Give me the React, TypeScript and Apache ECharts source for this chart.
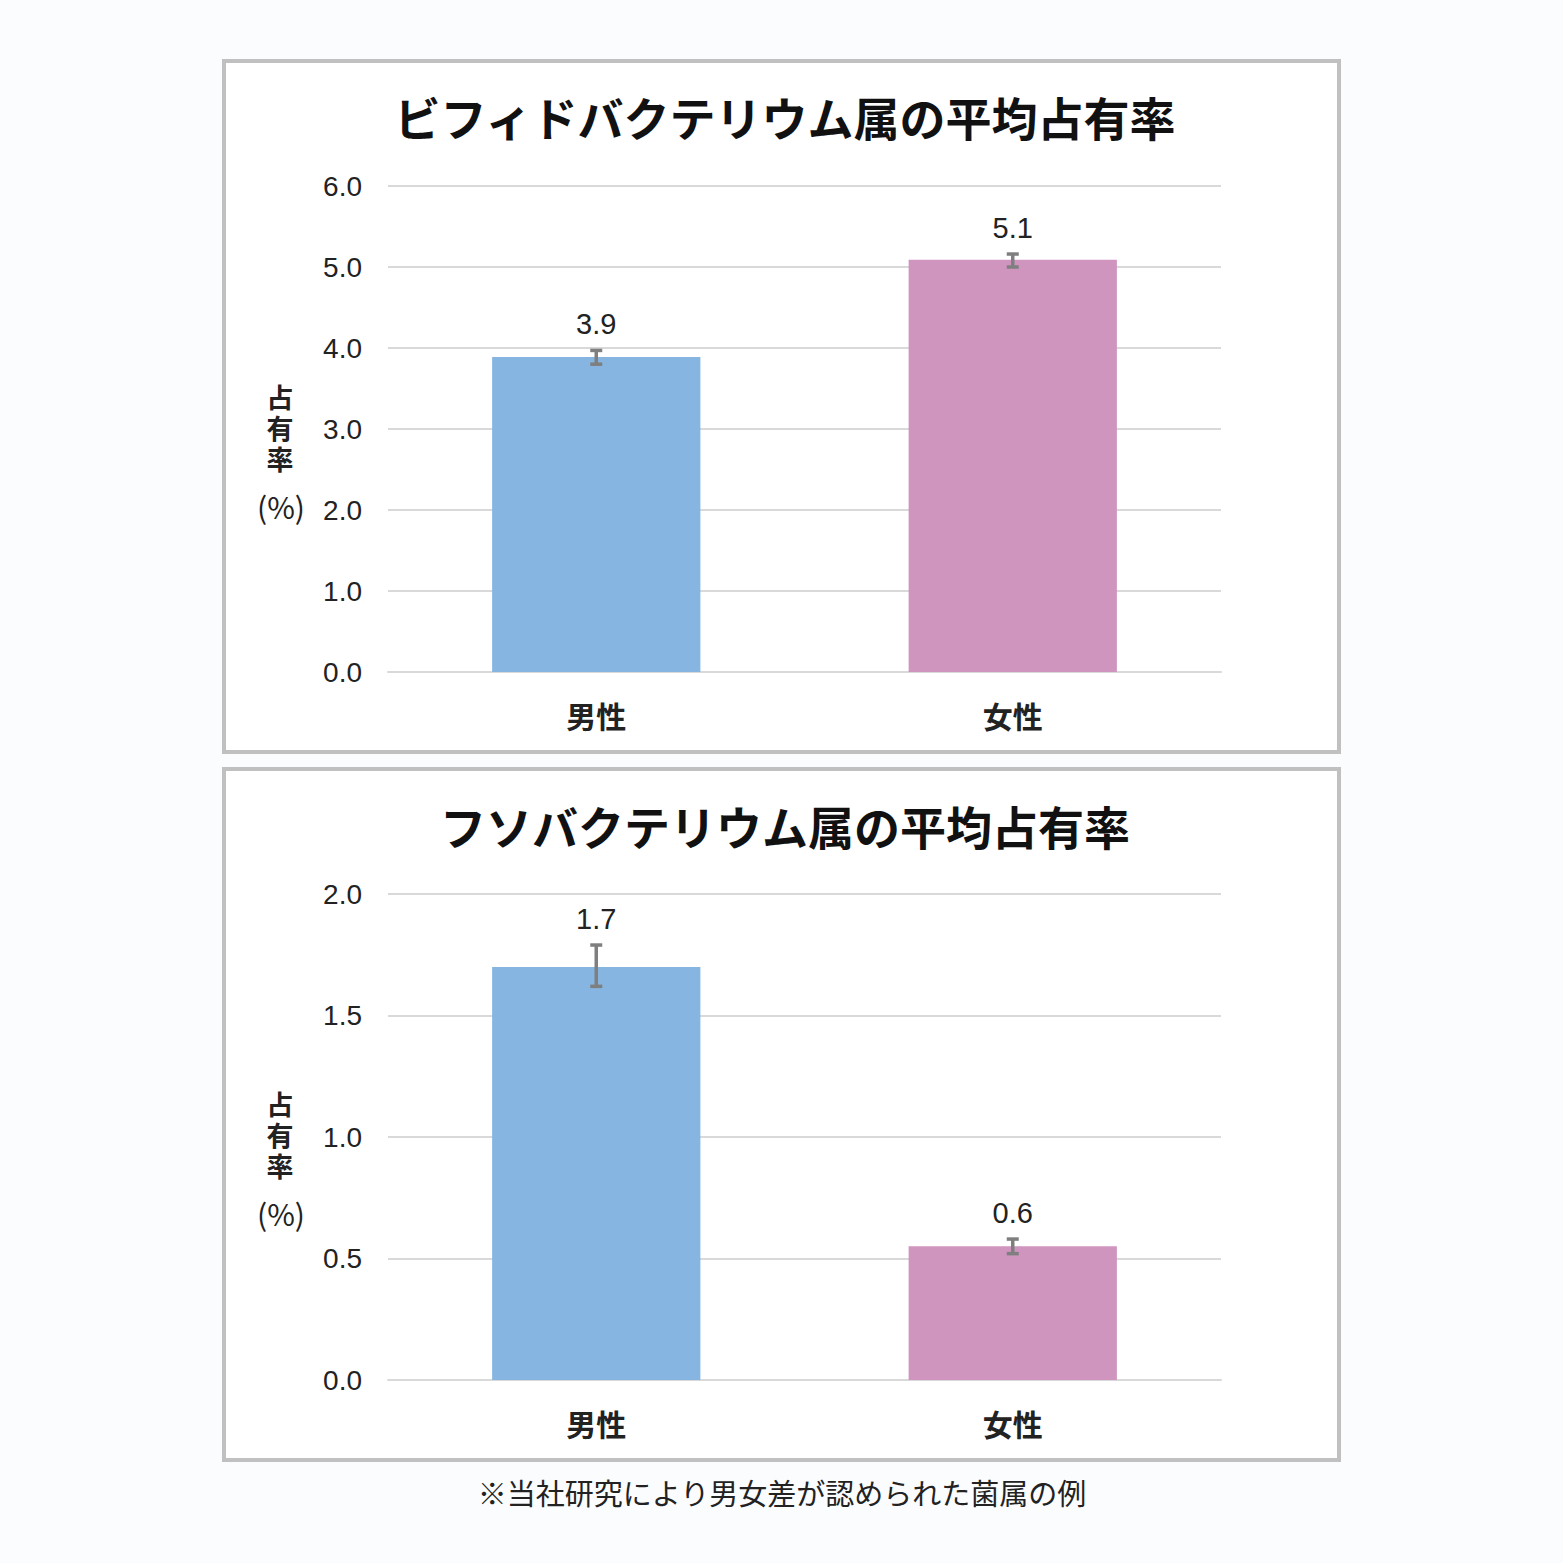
import React, { useEffect, useRef } from "react";
import * as echarts from "echarts";

const categories = ["男性", "女性"];
const title1 = "ビフィドバクテリウム属の平均占有率";
const title2 = "フソバクテリウム属の平均占有率";
const bifidoValues = [3.89, 5.09];
const bifidoLabels = ["3.9", "5.1"];
const bifidoErrLow = [3.8, 5.0];
const bifidoErrHigh = [3.97, 5.16];
const fusoValues = [1.7, 0.55];
const fusoLabels = ["1.7", "0.6"];
const fusoErrLow = [1.62, 0.52];
const fusoErrHigh = [1.79, 0.58];
const yTicks1 = { min: 0, max: 6, interval: 1 };
const yTicks2 = { min: 0, max: 2, interval: 0.5 };
const yAxisNameChars = ["占", "有", "率"];
const yAxisUnit = "(%)";
const footnote = "※当社研究により男女差が認められた菌属の例";

const BLUE = "#85b5e0";
const PINK = "#cf95bf";
const FONT = "'Noto Sans CJK JP', 'Noto Sans', sans-serif";
const NUMFONT = "'Liberation Sans', Arial, sans-serif";
const NAMEFONT = "'Liberation Sans', 'Noto Sans CJK JP', sans-serif";

export default function App() {
  const ref = useRef<HTMLDivElement>(null);
  useEffect(() => {
    if (!ref.current) return;
    const chart = echarts.init(ref.current, undefined, { renderer: "svg" });

    const mkErrRender = (labels: string[]) => (params: any, api: any) => {
      const x = api.value(0);
      const lo = api.coord([x, api.value(1)]);
      const hi = api.coord([x, api.value(2)]);
      const cap = 6;
      const st = { stroke: "#7f7f7f", lineWidth: 3.5 };
      return {
        type: "group",
        children: [
          { type: "line", shape: { x1: lo[0], y1: lo[1], x2: hi[0], y2: hi[1] }, style: st },
          { type: "line", shape: { x1: lo[0] - cap, y1: lo[1], x2: lo[0] + cap, y2: lo[1] }, style: st },
          { type: "line", shape: { x1: hi[0] - cap, y1: hi[1], x2: hi[0] + cap, y2: hi[1] }, style: st },
          {
            type: "text",
            x: hi[0],
            y: hi[1] - 26,
            style: {
              text: labels[params.dataIndex],
              fontSize: 29,
              fontFamily: NUMFONT,
              fill: "#222",
              align: "center",
              verticalAlign: "middle",
            },
          },
        ],
      };
    };

    const mkBars = (vals: number[], idx: number) => ({
      type: "bar",
      xAxisIndex: idx,
      yAxisIndex: idx,
      barWidth: "50%",
      data: vals.map((v, i) => ({
        value: v,
        itemStyle: { color: i === 0 ? BLUE : PINK },
      })),
      z: 2,
    });

    const mkErr = (lo: number[], hi: number[], labels: string[], idx: number) => ({
      type: "custom",
      xAxisIndex: idx,
      yAxisIndex: idx,
      renderItem: mkErrRender(labels),
      data: lo.map((l, i) => [i, l, hi[i]]),
      z: 5,
    });

    const mkX = (idx: number) => ({
      type: "category",
      gridIndex: idx,
      data: categories,
      axisTick: { show: false },
      axisLine: { show: true, lineStyle: { color: "#d9d9d9", width: 2 } },
      axisLabel: { fontSize: 30, fontWeight: "bold", fontFamily: FONT, color: "#222", margin: 28 },
    });

    const mkY = (idx: number, t: any, digits: number) => ({
      type: "value",
      gridIndex: idx,
      min: t.min,
      max: t.max,
      interval: t.interval,
      axisLine: { show: false },
      axisTick: { show: false },
      splitLine: { lineStyle: { color: "#d9d9d9", width: 2 } },
      axisLabel: {
        fontSize: 28,
        fontFamily: NUMFONT,
        color: "#222",
        margin: 26,
        formatter: (v: number) => v.toFixed(digits),
      },
    });

    const box = (y: number) => ({
      type: "rect",
      shape: { x: 224, y, width: 1115, height: 691 },
      style: { fill: "#ffffff", stroke: "#c0c0c0", lineWidth: 4 },
      z: -10,
    });

    const yName = (cy: number) => [
      ...yAxisNameChars.map((c, i) => ({
        type: "text",
        x: 280,
        y: cy + i * 31,
        style: {
          text: c,
          fontSize: 27,
          lineHeight: 27,
          fontWeight: "bold",
          fontFamily: NAMEFONT,
          fill: "#222",
          align: "center",
          verticalAlign: "middle",
        },
      })),
      {
        type: "text",
        x: 281,
        y: cy + 107,
        style: {
          text: yAxisUnit,
          fontSize: 30,
          lineHeight: 30,
          fontFamily: FONT,
          fill: "#222",
          align: "center",
          verticalAlign: "middle",
        },
      },
    ];

    const titleText = (text: string, y: number) => ({
      type: "text",
      x: 785,
      y,
      style: {
        text,
        fontSize: 46,
        fontWeight: "bold",
        fontFamily: FONT,
        fill: "#111",
        align: "center",
        verticalAlign: "middle",
      },
    });

    chart.setOption({
      animation: false,
      backgroundColor: "#fbfcfd",
      grid: [
        { left: 388, top: 186, width: 833, height: 486 },
        { left: 388, top: 894, width: 833, height: 486 },
      ],
      xAxis: [mkX(0), mkX(1)],
      yAxis: [mkY(0, yTicks1, 1), mkY(1, yTicks2, 1)],
      series: [
        mkBars(bifidoValues, 0),
        mkErr(bifidoErrLow, bifidoErrHigh, bifidoLabels, 0),
        mkBars(fusoValues, 1),
        mkErr(fusoErrLow, fusoErrHigh, fusoLabels, 1),
      ],
      graphic: [
        box(61),
        box(769),
        titleText(title1, 116),
        titleText(title2, 825),
        ...yName(399),
        ...yName(1106),
        {
          type: "text",
          x: 782,
          y: 1492,
          style: {
            text: footnote,
            fontSize: 29,
            fontFamily: FONT,
            fill: "#222",
            align: "center",
            verticalAlign: "middle",
          },
        },
      ],
    });
    return () => chart.dispose();
  }, []);
  return (
    <div
      ref={ref}
      style={{ position: "fixed", left: 0, top: 0, width: 1563, height: 1563 }}
    />
  );
}
